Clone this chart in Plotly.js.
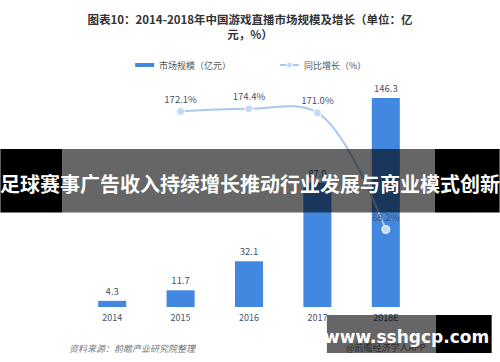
<!DOCTYPE html>
<html><head><meta charset="utf-8">
<script src="https://cdn.plot.ly/plotly-3.0.1.min.js"></script>
<style>html,body{margin:0;padding:0;background:#fff;}#chart{width:500px;height:362px;}</style>
</head><body><div id="chart"></div>
<script>
const years = ['2014','2015','2016','2017','2018E'];
const marketSize = [4.3, 11.7, 32.1, 87.0, 146.3];
const growthRate = [null, 172.1, 174.4, 171.0, 68.2];
const barLabels = ['4.3','11.7','32.1','87.0','146.3'];
const growthLabels = ['', '172.1%', '174.4%', '171.0%', '68.2%'];

const W = 500, H = 362;
const L = 77.75, R = 420.25, T = 70, B = 307;
const px = x => (x - L) / (R - L);
const py = y => (B - y) / (B - T);
const FONT = '"Noto Sans CJK SC", "Noto Sans", sans-serif';
const labelColor = '#44546a';

const bars = {
  type: 'bar', x: years, y: marketSize, text: barLabels,
  textposition: 'outside', cliponaxis: false,
  textfont: {family: FONT, size: 9.5, color: labelColor},
  marker: {color: '#4388e0'}, yaxis: 'y', hoverinfo: 'none'
};
const line = {
  type: 'scatter', mode: 'lines+markers+text', x: years, y: growthRate,
  text: growthLabels, textposition: 'top center', cliponaxis: false,
  textfont: {family: FONT, size: 9.5, color: labelColor},
  line: {color: '#a9c8ef', width: 2, shape: 'spline', smoothing: 1.0},
  marker: {color: '#c3d9f4', size: 8, line: {color: '#ffffff', width: 1}},
  yaxis: 'y2', connectgaps: false, hoverinfo: 'none'
};

const shapes = [
  {type:'line', xref:'paper', yref:'paper', x0:px(135), x1:px(154), y0:py(65), y1:py(65), line:{color:'#4388e0', width:4}},
  {type:'line', xref:'paper', yref:'paper', x0:px(280), x1:px(299), y0:py(65), y1:py(65), line:{color:'#a9c8ef', width:2}},
  {type:'circle', xref:'paper', yref:'paper', x0:px(286.5), x1:px(292.5), y0:py(62), y1:py(68), fillcolor:'#c3d9f4', line:{color:'#ffffff', width:1}},
  {type:'rect', xref:'paper', yref:'paper', layer:'above', x0:px(0), x1:px(62), y0:py(212.5), y1:py(149), fillcolor:'#000', line:{width:0}},
  {type:'rect', xref:'paper', yref:'paper', layer:'above', x0:px(62), x1:px(435), y0:py(212.5), y1:py(149), fillcolor:'rgba(0,0,0,0.6)', line:{width:0}},
  {type:'rect', xref:'paper', yref:'paper', layer:'above', x0:px(435), x1:px(500), y0:py(212.5), y1:py(149), fillcolor:'#000', line:{width:0}},
  {type:'rect', xref:'paper', yref:'paper', layer:'above', x0:px(327), x1:px(436), y0:py(353), y1:py(315), fillcolor:'rgba(0,0,0,0.6)', line:{width:0}},
  {type:'rect', xref:'paper', yref:'paper', layer:'above', x0:px(436), x1:px(492), y0:py(353), y1:py(315), fillcolor:'#000', line:{width:0}}
];

const annotations = [
  {xref:'paper', yref:'paper', x:px(157), y:py(65), xanchor:'left', yanchor:'middle', showarrow:false,
   text:'市场规模（亿元）', font:{family:FONT, size:9, color:'#555'}},
  {xref:'paper', yref:'paper', x:px(302), y:py(65), xanchor:'left', yanchor:'middle', showarrow:false,
   text:'同比增长（%）', font:{family:FONT, size:9, color:'#555'}},
  {xref:'paper', yref:'paper', x:px(67), y:py(348), xanchor:'left', yanchor:'middle', showarrow:false,
   text:'<i>资料来源：前瞻产业研究院整理</i>', font:{family:FONT, size:9, color:'#777'}},
  {xref:'paper', yref:'paper', x:px(386), y:py(347), xanchor:'center', yanchor:'middle', showarrow:false,
   text:'@前瞻经济学人APP', font:{family:FONT, size:9, color:'#2a2a2a'}},
  {xref:'paper', yref:'paper', x:px(250), y:py(183), xanchor:'center', yanchor:'middle', showarrow:false,
   text:'<b>足球赛事广告收入持续增长推动行业发展与商业模式创新</b>', font:{family:FONT, size:20, color:'#ffffff'}},
  {xref:'paper', yref:'paper', x:px(407), y:py(337), xanchor:'center', yanchor:'middle', showarrow:false,
   text:'<b>www.sshgcp.com</b>', font:{family:'"DejaVu Sans", sans-serif', size:17, color:'#ffffff'}}
];

const layout = {
  width: W, height: H,
  margin: {l: L, r: W - R, t: T, b: H - B, pad: 0},
  paper_bgcolor: '#fff', plot_bgcolor: 'rgba(0,0,0,0)',
  showlegend: false,
  bargap: 0.59,
  title: {
    text: '<b>图表10：2014-2018年中国游戏直播市场规模及增长（单位：亿<br>元，%）</b>',
    font: {family: FONT, size: 11.5, color: '#333'},
    x: 0.5, xanchor: 'center', y: 1 - 24/H, yanchor: 'middle', yref: 'container'
  },
  xaxis: {
    type: 'category', showgrid: false, zeroline: false, showline: false,
    ticks: '', tickfont: {family: FONT, size: 9, color: labelColor}, ticklabelstandoff: 4
  },
  yaxis: {visible: false, range: [0, 165.9], fixedrange: true},
  yaxis2: {visible: false, range: [0, 208.6], overlaying: 'y', side: 'right'},
  shapes: shapes,
  annotations: annotations
};

Plotly.newPlot('chart', [bars, line], layout, {displayModeBar: false, staticPlot: true});
</script>
</body></html>
